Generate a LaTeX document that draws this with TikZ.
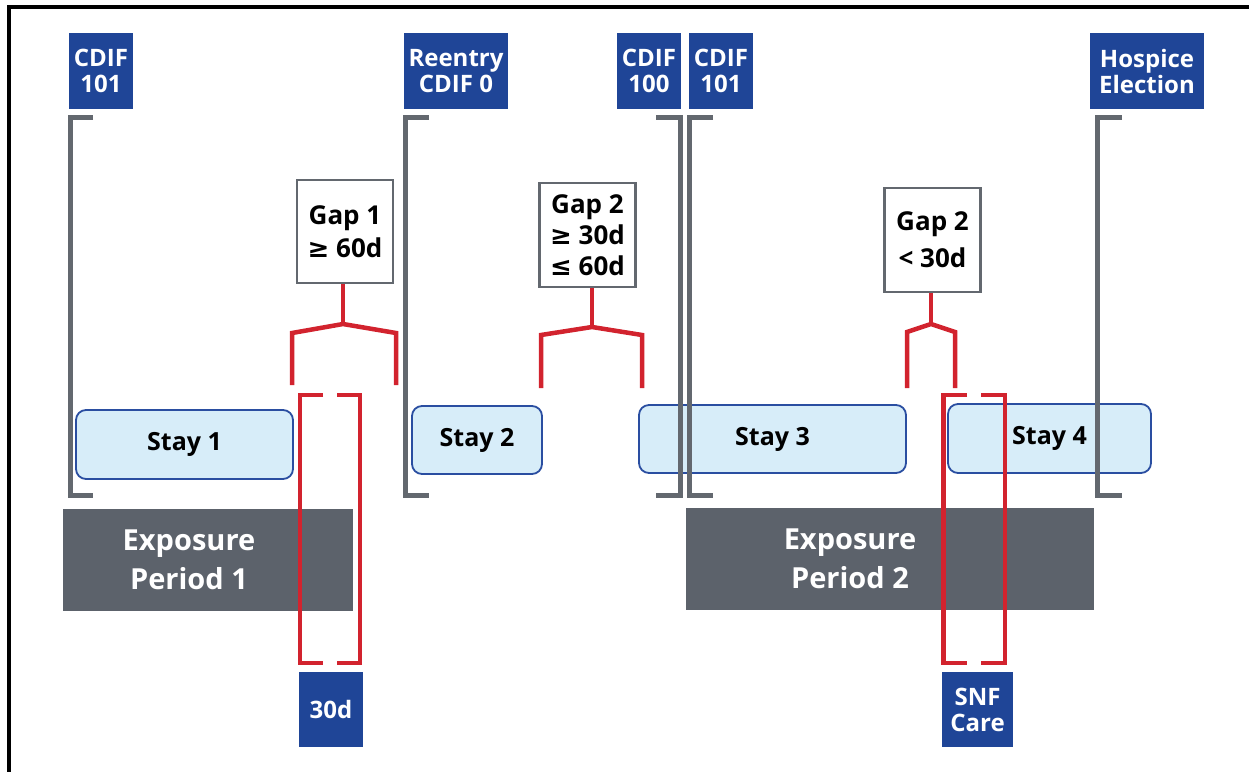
\documentclass[tikz,border=0pt]{standalone}
\usepackage{fontspec}
\setmainfont{Open Sans}
\newfontfamily\symfont{DejaVu Sans}
\usepackage{tikz}
\usetikzlibrary{positioning}
\usepackage{xcolor}
\definecolor{cdifblue}{HTML}{1F4597}
\definecolor{stayfill}{HTML}{D7EDF9}
\definecolor{stayedge}{HTML}{2A4EA1}
\definecolor{expgray}{HTML}{5C626B}
\definecolor{brkgray}{HTML}{63686F}
\definecolor{forkred}{HTML}{D2232E}

\tikzset{
  tag/.style={fill=cdifblue, text=white, align=center, inner sep=0pt,
    font=\bfseries\fontsize{24}{26}\selectfont, minimum height=76pt},
  staybox/.style={draw=stayedge, fill=stayfill, line width=1.8pt, rounded corners=10pt,
    font=\bfseries\fontsize{25}{28}\selectfont, minimum height=68pt},
  expbox/.style={fill=expgray, inner sep=0pt, minimum height=102pt},
  exptext/.style={text=white, align=center, font=\bfseries\fontsize{29}{39}\selectfont},
  gapbox/.style={draw=brkgray, line width=2.5pt, fill=white, align=center,
    font=\bfseries\fontsize{26}{33}\selectfont, minimum width=96pt, minimum height=103pt},
  brk/.style={draw=brkgray, line width=5pt},
  redline/.style={draw=forkred, line width=4.5pt},
}

\begin{document}
\begin{tikzpicture}[x=1pt, y=-1pt]
  \useasboundingbox (0,0) rectangle (1249,772);
  \draw[line width=4pt] (1249,6.5) -- (8.5,6.5) -- (8.5,772);

  % event tags along the top
  \node[tag, minimum width=64pt] (cdifa) at (101,71) {CDIF\\101};
  \node[tag, minimum width=104pt] (reentry) at (456,71) {Reentry\\CDIF 0};
  \node[tag, minimum width=64pt] (cdifb) at (649,71) {CDIF\\100};
  \node[tag, minimum width=64pt] (cdifc) at (721,71) {CDIF\\101};
  \node[tag, minimum width=114pt] (hospice) at (1147,71) {Hospice\\Election};

  % stays
  \node[staybox, minimum width=217pt, minimum height=69pt] (stay1) at (184.5,444.5) {Stay 1};
  \node[staybox, minimum width=130pt] (stay2) at (477,440) {Stay 2};
  \node[staybox, minimum width=267pt] (stay3) at (772.5,439) {Stay 3};
  \node[staybox, minimum width=203pt, minimum height=69pt] (stay4) at (1049.5,438.5) {Stay 4};

  % exposure periods
  \node[expbox, minimum width=290pt] (exp1) at (208,560) {};
  \node[exptext] (exp1txt) at (189,560) {Exposure\\Period 1};
  \node[expbox, minimum width=408pt] (exp2) at (890,559) {};
  \node[exptext] (exp2txt) at (850,559) {Exposure\\Period 2};

  % enrollment brackets
  \draw[brk] (93,117) -- (70,117) -- (70,495) -- (93,495);
  \draw[brk] (429,117) -- (405,117) -- (405,495) -- (429,495);
  \draw[brk] (656,117) -- (680,117) -- (680,495) -- (656,495);
  \draw[brk] (713,117) -- (689.5,117) -- (689.5,495) -- (713,495);
  \draw[brk] (1122,117) -- (1097.5,117) -- (1097.5,495) -- (1122,495);

  % gaps between stays
  \node[gapbox] (gap1) at (345,231.5) {Gap 1\\{\symfont ≥} 60d};
  \node[gapbox, minimum height=104pt, font=\bfseries\fontsize{26}{31}\selectfont] (gap2) at (587.5,235)
    {Gap 2\\{\symfont ≥} 30d\\{\symfont ≤} 60d};
  \node[gapbox, minimum height=104pt, font=\bfseries\fontsize{26}{37}\selectfont] (gap3) at (932.5,240)
    {Gap 2\\< 30d};

  \draw[redline] (gap1.south -| 343,0) -- (343,324) coordinate (fk1);
  \draw[redline] (292,385) -- (292,333) -- (fk1) -- (396,333) -- (396,385);
  \draw[redline] (gap2.south -| 592,0) -- (592,327) coordinate (fk2);
  \draw[redline] (541,388) -- (541,335) -- (fk2) -- (642,335) -- (642,388);
  \draw[redline] (gap3.south -| 931,0) -- (931,324) coordinate (fk3);
  \draw[redline] (907,388) -- (907,332) -- (fk3) -- (955,332) -- (955,388);

  % 30 day window and SNF care
  \draw[redline] (323,395) -- (300,395) -- (300,663) -- (323,663);
  \draw[redline] (337,395) -- (360,395) -- (360,663) -- (337,663);
  \draw[redline] (967,395) -- (943.5,395) -- (943.5,663) -- (967,663);
  \draw[redline] (981,395) -- (1005,395) -- (1005,663) -- (981,663);

  \node[tag, minimum width=64pt, minimum height=75pt] (days) at (331,709.5) {30d};
  \node[tag, minimum width=71pt, minimum height=75pt] (snf) at (977.5,709.5) {SNF\\Care};
\end{tikzpicture}
\end{document}
